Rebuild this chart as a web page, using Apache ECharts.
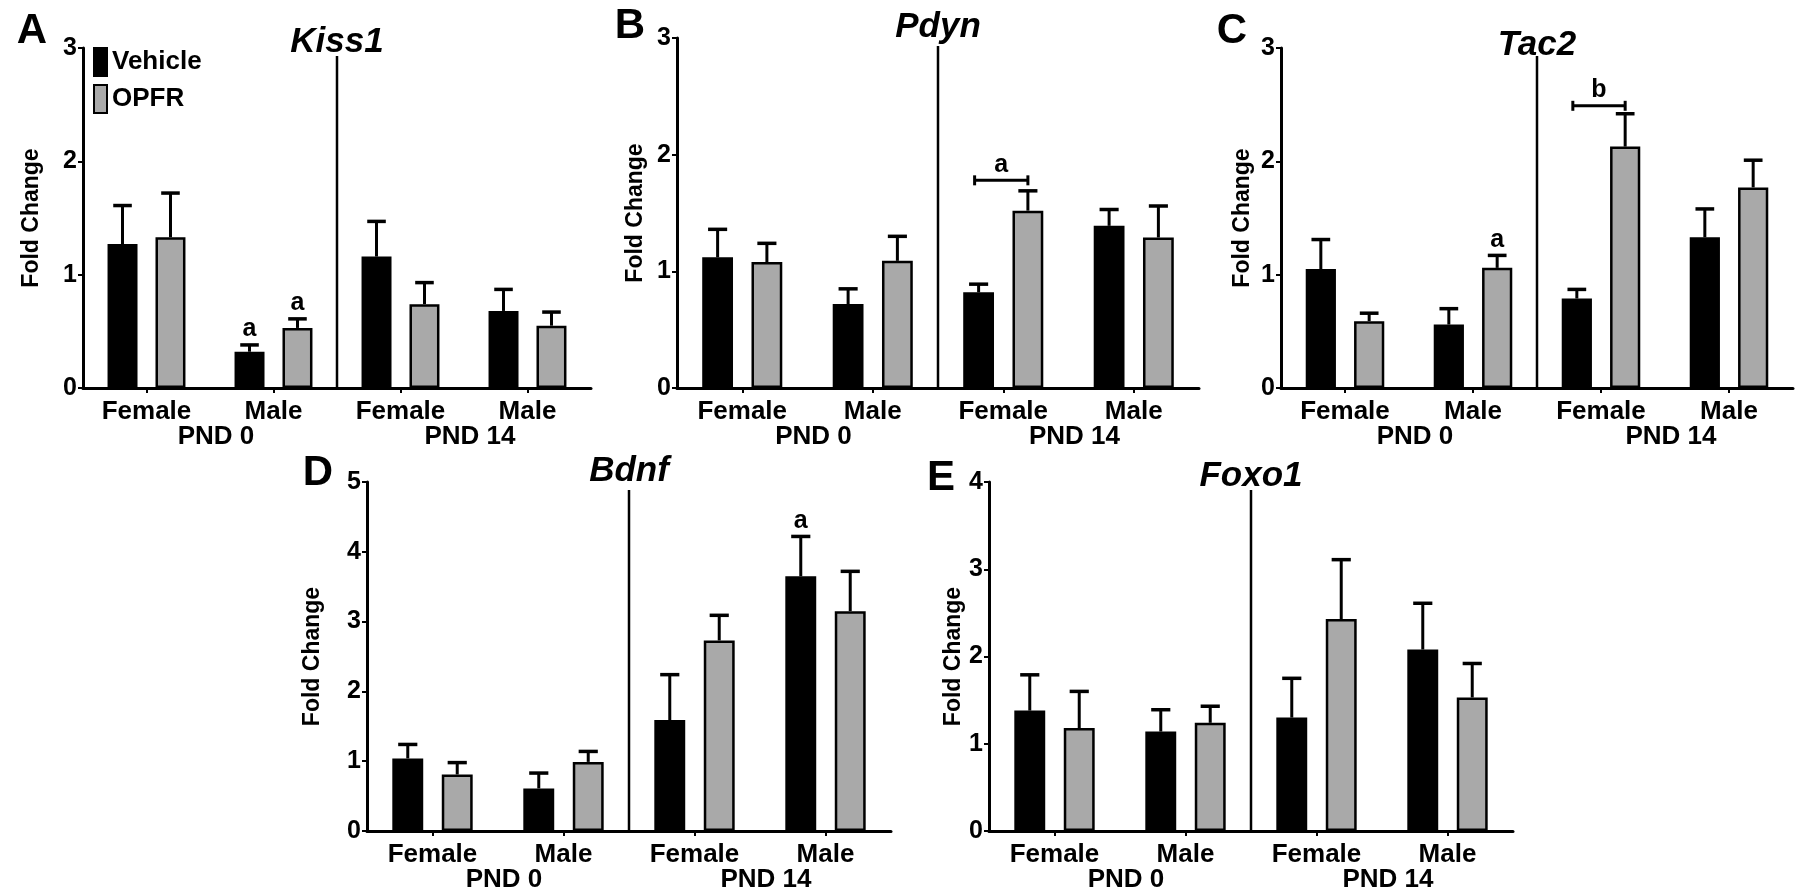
<!DOCTYPE html>
<html>
<head>
<meta charset="utf-8">
<script src="https://cdn.jsdelivr.net/npm/echarts@6/dist/echarts.min.js"></script>
<style>
html,body{margin:0;padding:0;background:#fff;}
#chart{width:1800px;height:894px;}
</style>
</head>
<body>
<div id="chart"></div>
<script>
// ---------------- DATA ----------------
const categories = ['Female', 'Male', 'Female', 'Male'];
const ageGroups = ['PND 0', 'PND 14'];
const seriesNames = ['Vehicle', 'OPFR'];
const genes = ['Kiss1', 'Pdyn', 'Tac2', 'Bdnf', 'Foxo1'];
const panelLetters = ['A', 'B', 'C', 'D', 'E'];
const yMax = [3, 3, 3, 5, 4];

// mean fold change
const kiss1Vehicle = [1.27, 0.32, 1.16, 0.68];
const kiss1Opfr    = [1.33, 0.53, 0.74, 0.55];
const pdynVehicle  = [1.12, 0.72, 0.82, 1.39];
const pdynOpfr     = [1.08, 1.09, 1.52, 1.29];
const tac2Vehicle  = [1.05, 0.56, 0.79, 1.33];
const tac2Opfr     = [0.59, 1.06, 2.13, 1.77];
const bdnfVehicle  = [1.04, 0.61, 1.59, 3.65];
const bdnfOpfr     = [0.81, 0.99, 2.73, 3.15];
const foxo1Vehicle = [1.38, 1.14, 1.30, 2.08];
const foxo1Opfr    = [1.18, 1.24, 2.43, 1.53];

// SEM (upper error bar)
const kiss1VehicleSem = [0.34, 0.06, 0.31, 0.19];
const kiss1OpfrSem    = [0.39, 0.08, 0.19, 0.12];
const pdynVehicleSem  = [0.24, 0.13, 0.07, 0.14];
const pdynOpfrSem     = [0.16, 0.21, 0.17, 0.27];
const tac2VehicleSem  = [0.26, 0.14, 0.08, 0.25];
const tac2OpfrSem     = [0.07, 0.11, 0.29, 0.24];
const bdnfVehicleSem  = [0.20, 0.22, 0.65, 0.57];
const bdnfOpfrSem     = [0.17, 0.15, 0.36, 0.57];
const foxo1VehicleSem = [0.41, 0.25, 0.45, 0.53];
const foxo1OpfrSem    = [0.42, 0.19, 0.68, 0.39];

// significance letters above individual bars
const kiss1VehicleSig = ['', 'a', '', ''];
const kiss1OpfrSig    = ['', 'a', '', ''];
const pdynVehicleSig  = ['', '', '', ''];
const pdynOpfrSig     = ['', '', '', ''];
const tac2VehicleSig  = ['', '', '', ''];
const tac2OpfrSig     = ['', 'a', '', ''];
const bdnfVehicleSig  = ['', '', '', 'a'];
const bdnfOpfrSig     = ['', '', '', ''];
const foxo1VehicleSig = ['', '', '', ''];
const foxo1OpfrSig    = ['', '', '', ''];

// brackets between Vehicle and OPFR: [category index, y level, letter]
const pdynBracket = [[2, 1.78, 'a']];
const tac2Bracket = [[2, 2.49, 'b']];

const panelData = [
  {veh: kiss1Vehicle, opf: kiss1Opfr, vSem: kiss1VehicleSem, oSem: kiss1OpfrSem, vSig: kiss1VehicleSig, oSig: kiss1OpfrSig, br: []},
  {veh: pdynVehicle, opf: pdynOpfr, vSem: pdynVehicleSem, oSem: pdynOpfrSem, vSig: pdynVehicleSig, oSig: pdynOpfrSig, br: pdynBracket},
  {veh: tac2Vehicle, opf: tac2Opfr, vSem: tac2VehicleSem, oSem: tac2OpfrSem, vSig: tac2VehicleSig, oSig: tac2OpfrSig, br: tac2Bracket},
  {veh: bdnfVehicle, opf: bdnfOpfr, vSem: bdnfVehicleSem, oSem: bdnfOpfrSem, vSig: bdnfVehicleSig, oSig: bdnfOpfrSig, br: []},
  {veh: foxo1Vehicle, opf: foxo1Opfr, vSem: foxo1VehicleSem, oSem: foxo1OpfrSem, vSig: foxo1VehicleSig, oSig: foxo1OpfrSig, br: []}
];

// ---------------- LAYOUT ----------------
const FONT = '"Liberation Sans", Arial, sans-serif';
const BAR_FRAC = 0.236;
const layout = [
  {left: 83,   top: 48,  width: 508, height: 340, nameGap: 40, lx: 32,   ly: 31,  ty: 42},
  {left: 677,  top: 38,  width: 522, height: 350, nameGap: 30, lx: 630,  ly: 26,  ty: 27},
  {left: 1281, top: 48,  width: 512, height: 340, nameGap: 27, lx: 1232, ly: 31,  ty: 45},
  {left: 367,  top: 482, width: 524, height: 349, nameGap: 43, lx: 318,  ly: 473, ty: 471},
  {left: 989,  top: 482, width: 524, height: 349, nameGap: 24, lx: 941,  ly: 478, ty: 476}
];
const VEH_COLOR = '#000000';
const OPF_COLOR = '#a9a9a9';

function errRender(sign, sigArr) {
  return function (params, api) {
    const i = api.value(0), m = api.value(1), s = api.value(2);
    const band = api.size([1, 0])[0];
    const bw = band * BAR_FRAC;
    const p0 = api.coord([i, m]);
    const p1 = api.coord([i, m + s]);
    const x = p0[0] + sign * 0.8 * bw;
    const cap = bw * 0.62;
    const children = [
      {type: 'line', shape: {x1: x, y1: p0[1], x2: x, y2: p1[1]}, style: {stroke: '#000', lineWidth: 3}},
      {type: 'line', shape: {x1: x - cap / 2, y1: p1[1], x2: x + cap / 2, y2: p1[1]}, style: {stroke: '#000', lineWidth: 3.5}}
    ];
    const lab = sigArr[params.dataIndex];
    if (lab) {
      children.push({type: 'text', style: {text: lab, x: x, y: p1[1] - 3, textAlign: 'center', textVerticalAlign: 'bottom',
        font: 'bold 25px ' + FONT, fill: '#000'}});
    }
    return {type: 'group', children: children};
  };
}

function bracketRender(brArr) {
  return function (params, api) {
    const i = api.value(0), lvl = api.value(1);
    const band = api.size([1, 0])[0];
    const bw = band * BAR_FRAC;
    const c = api.coord([i, lvl]);
    const x1 = c[0] - 0.8 * bw - 4, x2 = c[0] + 0.8 * bw;
    const y = c[1];
    return {type: 'group', children: [
      {type: 'line', shape: {x1: x1, y1: y, x2: x2, y2: y}, style: {stroke: '#000', lineWidth: 3}},
      {type: 'line', shape: {x1: x1, y1: y - 5, x2: x1, y2: y + 5}, style: {stroke: '#000', lineWidth: 3}},
      {type: 'line', shape: {x1: x2, y1: y - 5, x2: x2, y2: y + 5}, style: {stroke: '#000', lineWidth: 3}},
      {type: 'text', style: {text: brArr[params.dataIndex][2], x: (x1 + x2) / 2, y: y - 3, textAlign: 'center',
        textVerticalAlign: 'bottom', font: 'bold 25px ' + FONT, fill: '#000'}}
    ]};
  };
}

const grids = [], xAxes = [], yAxes = [], series = [], graphics = [];
layout.forEach(function (L, p) {
  const d = panelData[p];
  grids.push({left: L.left, top: L.top, width: L.width, height: L.height, containLabel: false});
  xAxes.push({
    type: 'category', gridIndex: p, data: categories, position: 'bottom',
    axisLine: {show: true, onZero: false, lineStyle: {color: '#000', width: 3}},
    axisTick: {show: true, alignWithLabel: true, length: 5, lineStyle: {color: '#000', width: 2}},
    axisLabel: {interval: 0, margin: 11, color: '#000', fontSize: 26, fontWeight: 'bold', fontFamily: FONT},
    splitLine: {show: false}
  });
  xAxes.push({
    type: 'category', gridIndex: p, data: ageGroups, position: 'bottom',
    axisLine: {show: false}, axisTick: {show: false},
    axisLabel: {interval: 0, margin: 36, color: '#000', fontSize: 26, fontWeight: 'bold', fontFamily: FONT,
      padding: [0, 0, 0, 12]},
    splitLine: {show: false}
  });
  yAxes.push({
    type: 'value', gridIndex: p, min: 0, max: yMax[p], interval: 1,
    name: 'Fold Change', nameLocation: 'middle', nameGap: L.nameGap,
    nameTextStyle: {color: '#000', fontSize: 23, fontWeight: 'bold', fontFamily: FONT},
    axisLine: {show: true, lineStyle: {color: '#000', width: 3}},
    axisTick: {show: true, length: 5, lineStyle: {color: '#000', width: 2}},
    axisLabel: {margin: 6, color: '#000', fontSize: 25, fontWeight: 'bold', fontFamily: FONT},
    splitLine: {show: false}
  });
  series.push({
    name: seriesNames[0], type: 'bar', xAxisIndex: 2 * p, yAxisIndex: p, data: d.veh,
    barWidth: (BAR_FRAC * 100) + '%', barGap: '60%',
    itemStyle: {color: VEH_COLOR, borderColor: '#000', borderWidth: 2.5}, z: 2
  });
  series.push({
    name: seriesNames[1], type: 'bar', xAxisIndex: 2 * p, yAxisIndex: p, data: d.opf,
    barWidth: (BAR_FRAC * 100) + '%', barGap: '60%',
    itemStyle: {color: OPF_COLOR, borderColor: '#000', borderWidth: 2.5}, z: 2
  });
  series.push({
    type: 'custom', xAxisIndex: 2 * p, yAxisIndex: p, clip: false, z: 3,
    data: d.veh.map(function (v, i) { return [i, v, d.vSem[i]]; }),
    encode: {x: 0, y: 1}, renderItem: errRender(-1, d.vSig), silent: true
  });
  series.push({
    type: 'custom', xAxisIndex: 2 * p, yAxisIndex: p, clip: false, z: 3,
    data: d.opf.map(function (v, i) { return [i, v, d.oSem[i]]; }),
    encode: {x: 0, y: 1}, renderItem: errRender(1, d.oSig), silent: true
  });
  if (d.br.length) {
    series.push({
      type: 'custom', xAxisIndex: 2 * p, yAxisIndex: p, clip: false, z: 3,
      data: d.br.map(function (b) { return [b[0], b[1]]; }),
      encode: {x: 0, y: 1}, renderItem: bracketRender(d.br), silent: true
    });
  }
  const midX = L.left + L.width / 2;
  graphics.push({type: 'line', shape: {x1: midX, y1: L.top + 8, x2: midX, y2: L.top + L.height},
    style: {stroke: '#000', lineWidth: 2.5}, z: 10});
  graphics.push({type: 'text', style: {text: genes[p], x: midX, y: L.ty, textAlign: 'center', textVerticalAlign: 'middle',
    font: 'italic bold 35px ' + FONT, fill: '#000'}, z: 10});
  graphics.push({type: 'text', style: {text: panelLetters[p], x: L.lx, y: L.ly, textAlign: 'center', textVerticalAlign: 'middle',
    font: 'bold 42px ' + FONT, fill: '#000'}, z: 10});
});

const chart = echarts.init(document.getElementById('chart'), null, {renderer: 'canvas'});
chart.setOption({
  backgroundColor: '#ffffff',
  animation: false,
  legend: {
    data: seriesNames, orient: 'vertical', left: 93, top: 47, padding: 0,
    icon: 'rect', itemWidth: 13, itemHeight: 28, itemGap: 7,
    textStyle: {color: '#000', fontSize: 26, fontWeight: 'bold', fontFamily: FONT, padding: [0, 0, 0, 0]},
    selectedMode: false
  },
  grid: grids,
  xAxis: xAxes,
  yAxis: yAxes,
  series: series,
  graphic: graphics
});
</script>
</body>
</html>
